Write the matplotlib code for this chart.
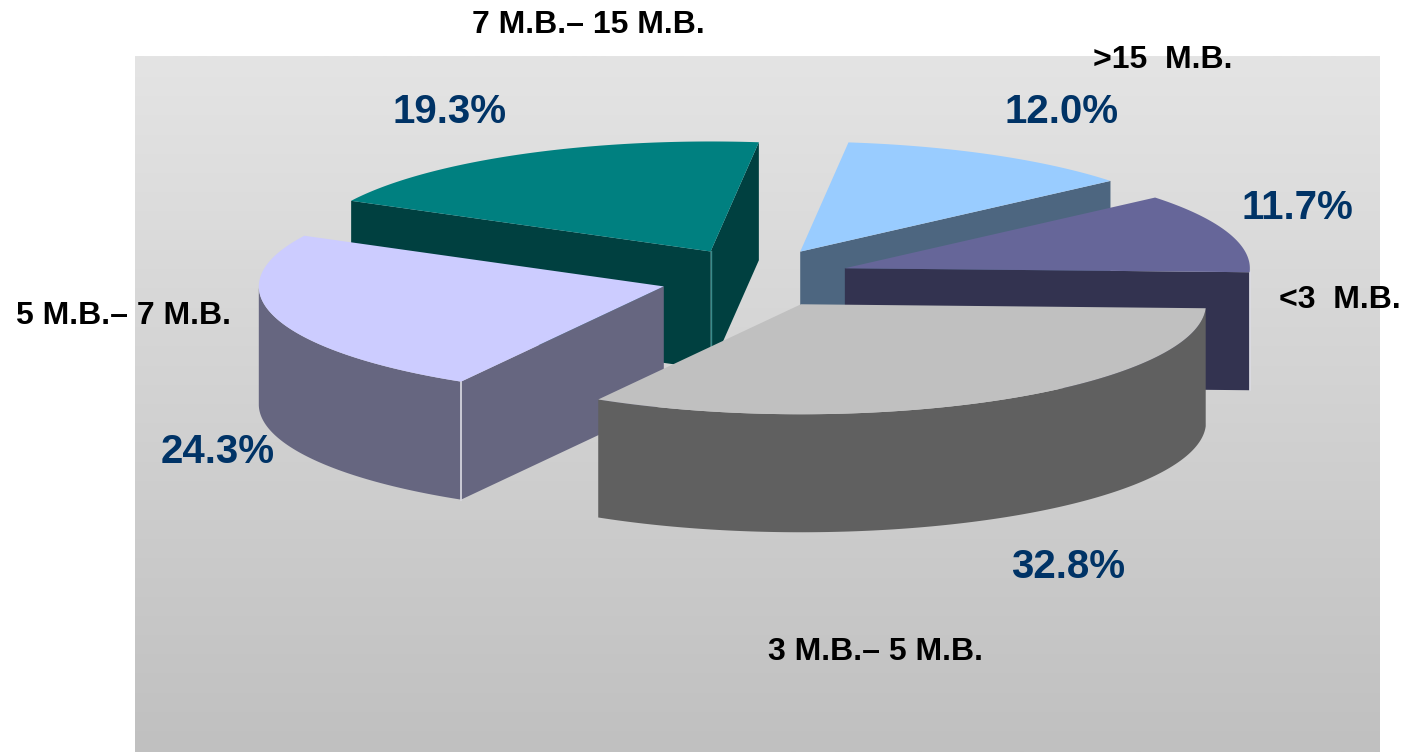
import numpy as np
import matplotlib.pyplot as plt
from matplotlib.colors import LinearSegmentedColormap
from matplotlib.patches import Polygon

plt.rcParams['font.family'] = ['Liberation Sans', 'DejaVu Sans']

# share of each size class, clockwise from the first slice
categories = ['<3  M.B.', '3 M.B.– 5 M.B.', '5 M.B.– 7 M.B.', '7 M.B.– 15 M.B.', '>15  M.B.']
shares = [11.7, 32.8, 24.3, 19.3, 12.0]
pct_labels = ['11.7%', '32.8%', '24.3%', '19.3%', '12.0%']

top_colors = ['#666699', '#C0C0C0', '#CCCCFF', '#008080', '#99CCFF']
side_colors = ['#333350', '#606060', '#666680', '#004040', '#4D6680']

# where the labels sit (pixels)
cat_pos = [(1340, 300), (876, 652), (123, 316), (588, 25), (1163, 60)]
pct_pos = [(1297, 208), (1068, 567), (218, 452), (450, 112), (1062, 112)]

W, H = 1407, 752
cx, cy = 755, 278          # pie centre
rx, ry = 405, 110          # ellipse radii of the top face
depth = 118                # thickness of the pie
explode = (95, 30)         # radial offset of every slice
start = 40.0               # angle where the first slice begins

fig = plt.figure(figsize=(W / 100, H / 100), dpi=100)
ax = fig.add_axes([0, 0, 1, 1])
ax.set_xlim(0, W)
ax.set_ylim(H, 0)
ax.axis('off')

# plot area background gradient
grad = LinearSegmentedColormap.from_list('bg', ['#E4E4E4', '#C0C0C0'])
ax.imshow(np.linspace(0, 1, 256).reshape(-1, 1), cmap=grad,
          extent=[135, 1380, 752, 56], aspect='auto', zorder=0)

total = sum(shares)
bounds = start - np.cumsum([0] + shares) / total * 360.0


def pt(t, ox, oy, dz=0.0):
    r = np.radians(t)
    return cx + ox + rx * np.cos(r), cy + oy - ry * np.sin(r) + dz


slices = []
for i in range(len(shares)):
    a1, a2 = bounds[i], bounds[i + 1]
    mid = np.radians((a1 + a2) / 2)
    ox, oy = explode[0] * np.cos(mid), -explode[1] * np.sin(mid)
    slices.append((np.sin(mid), i, a1, a2, ox, oy))

# paint back slices first
slices.sort(key=lambda s: -s[0])
z = 1
for _, i, a1, a2, ox, oy in slices:
    apex = (cx + ox, cy + oy)
    ts = np.linspace(a2, a1, 200)
    xs, ys = pt(ts, ox, oy)

    # outer wall, only the part facing the viewer
    vis = np.sin(np.radians(ts)) <= 0
    runs = np.split(np.arange(len(ts)), np.where(np.diff(vis.astype(int)) != 0)[0] + 1)
    for run in runs:
        if not vis[run[0]] or len(run) < 2:
            continue
        px, py = xs[run], ys[run]
        poly = np.column_stack([np.r_[px, px[::-1]], np.r_[py, py[::-1] + depth]])
        ax.add_patch(Polygon(poly, closed=True, fc=side_colors[i], ec='none', zorder=z))

    # flat cut faces
    edges = []
    if np.cos(np.radians(a1)) < 0:
        edges.append(a1)
    if np.cos(np.radians(a2)) > 0:
        edges.append(a2)
    for a in edges:
        ex, ey = pt(a, ox, oy)
        poly = [apex, (ex, ey), (ex, ey + depth), (apex[0], apex[1] + depth)]
        ax.add_patch(Polygon(poly, closed=True, fc=side_colors[i], ec='none', zorder=z))
        if np.sin(np.radians(a)) < 0:
            ax.plot([ex, ex], [ey, ey + depth], color='#DCDCE4', lw=1.2, zorder=z + 0.5)
    if len(edges) == 2:
        ax.plot([apex[0], apex[0]], [apex[1], apex[1] + depth], color='#3A8A8A', lw=1.0,
                zorder=z + 0.5)

    # top face
    top = np.column_stack([np.r_[apex[0], xs], np.r_[apex[1], ys]])
    ax.add_patch(Polygon(top, closed=True, fc=top_colors[i], ec='none', zorder=z + 1))
    z += 2

for i in range(len(shares)):
    ax.text(*cat_pos[i], categories[i], ha='center', va='center',
            fontsize=23, fontweight='bold', color='black', zorder=50)
    ax.text(*pct_pos[i], pct_labels[i], ha='center', va='center',
            fontsize=29, fontweight='bold', color='#003366', zorder=50)

fig.savefig('out.png', dpi=100, facecolor='white')
